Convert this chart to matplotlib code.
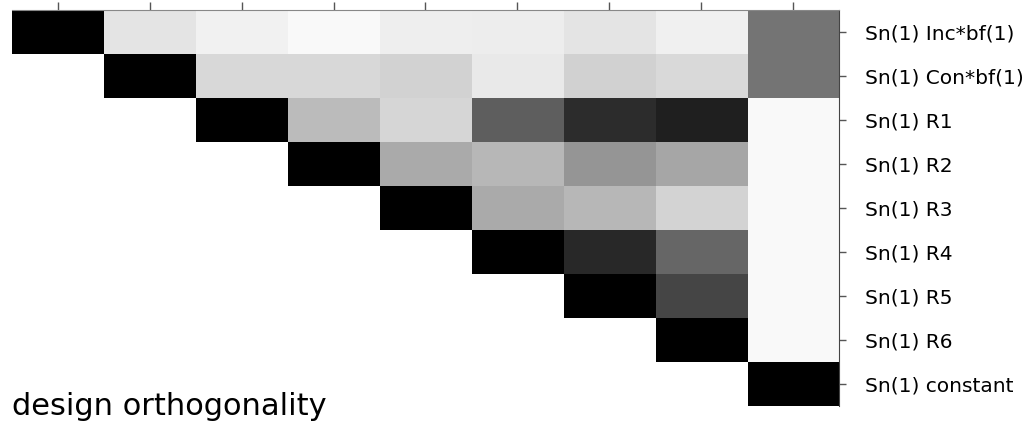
import matplotlib

matplotlib.use("Agg")
import matplotlib.pyplot as plt
import numpy as np


# =========================
# 数据：设计矩阵各列之间的 |cos| 值（上三角）
# =========================
REGRESSORS = [
    "Sn(1) Inc*bf(1)",
    "Sn(1) Con*bf(1)",
    "Sn(1) R1",
    "Sn(1) R2",
    "Sn(1) R3",
    "Sn(1) R4",
    "Sn(1) R5",
    "Sn(1) R6",
    "Sn(1) constant",
]

ROW_0 = [1.0, 0.106, 0.055, 0.024, 0.067, 0.071, 0.106, 0.059, 0.545]
ROW_1 = [1.0, 0.153, 0.153, 0.176, 0.086, 0.180, 0.149, 0.545]
ROW_2 = [1.0, 0.267, 0.161, 0.631, 0.827, 0.875, 0.027]
ROW_3 = [1.0, 0.333, 0.282, 0.416, 0.349, 0.027]
ROW_4 = [1.0, 0.333, 0.282, 0.173, 0.027]
ROW_5 = [1.0, 0.839, 0.600, 0.027]
ROW_6 = [1.0, 0.729, 0.027]
ROW_7 = [1.0, 0.027]
ROW_8 = [1.0]

TITLE = "design orthogonality"
FONT = "DejaVu Sans"


def build_matrix(rows):
    """把上三角各行拼成方阵，下三角用掩码隐藏。"""
    n = len(rows)
    mat = np.full((n, n), np.nan)
    for i, row in enumerate(rows):
        mat[i, i:] = row
    return np.ma.masked_invalid(mat)


def main():
    rows = [ROW_0, ROW_1, ROW_2, ROW_3, ROW_4, ROW_5, ROW_6, ROW_7, ROW_8]
    mat = build_matrix(rows)
    n = len(REGRESSORS)

    fig = plt.figure(figsize=(10.33, 4.29), dpi=100)
    ax = fig.add_axes([0.0116, 0.054, 0.8006, 0.923])

    cmap = plt.get_cmap("gray_r").copy()
    cmap.set_bad("white")
    ax.imshow(mat, cmap=cmap, vmin=0, vmax=1, aspect="auto", interpolation="nearest")

    ax.set_xlim(-0.5, n - 0.5)
    ax.set_ylim(n - 0.5, -0.5)

    ax.set_xticks(np.arange(n))
    ax.set_xticklabels([])
    ax.xaxis.tick_top()
    ax.yaxis.tick_right()
    ax.set_yticks(np.arange(n))
    ax.set_yticklabels(REGRESSORS, fontsize=14.5, family=FONT)
    ax.tick_params(axis="x", direction="out", length=6, width=1, color="#555555")
    ax.tick_params(axis="y", direction="out", length=5, width=1, color="#555555", pad=14)

    ax.spines["left"].set_visible(False)
    ax.spines["bottom"].set_visible(False)
    ax.spines["top"].set_color("#888888")
    ax.spines["right"].set_color("#444444")

    fig.text(0.012, 0.033, TITLE, fontsize=22, family=FONT, ha="left", va="baseline")

    fig.savefig("out.png", dpi=100)
    plt.close(fig)


if __name__ == "__main__":
    main()
